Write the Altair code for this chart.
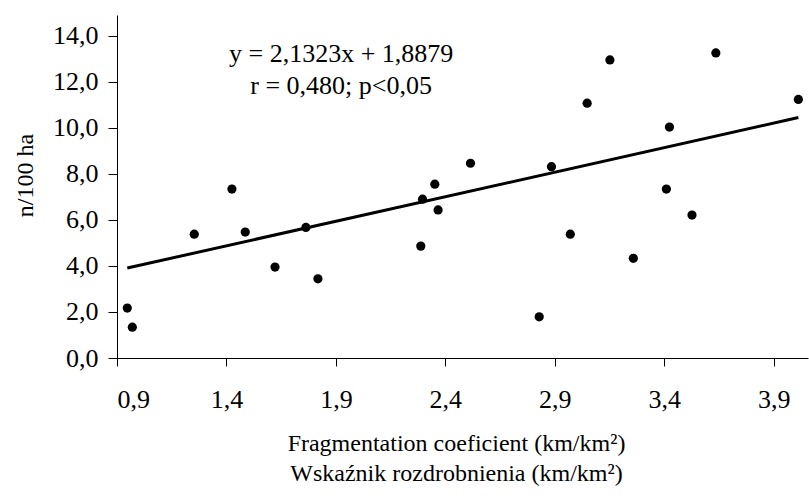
import altair as alt
import pandas as pd

# Data
frag = [0.947, 0.970, 1.253, 1.425, 1.486, 1.622, 1.763, 1.818, 2.288, 2.296,
        2.352, 2.367, 2.515, 2.829, 2.885, 2.971, 3.048, 3.152, 3.259, 3.410,
        3.424, 3.527, 3.636, 4.013]
density = [2.17, 1.34, 5.38, 7.34, 5.47, 3.95, 5.67, 3.44, 4.86, 6.90,
           7.55, 6.43, 8.46, 1.79, 8.31, 5.38, 11.07, 12.95, 4.33, 7.34,
           10.03, 6.21, 13.25, 11.23]

slope = 2.1323
intercept = 1.8879
line_x = [0.947, 4.013]

ann_text = ["y = 2,1323x + 1,8879", "r = 0,480; p<0,05"]
ann_x = [1.924, 1.924]
ann_y = [12.87, 11.47]

x_ticks = [0.9, 1.4, 1.9, 2.4, 2.9, 3.4, 3.9]
y_ticks = [0, 2, 4, 6, 8, 10, 12, 14]

pts = pd.DataFrame({"x": frag, "y": density})
ln = pd.DataFrame({"x": line_x, "y": [slope * v + intercept for v in line_x]})
ann = pd.DataFrame({"t": ann_text, "x": ann_x, "y": ann_y})

FONT = "Liberation Serif"
lab = "replace(format(datum.value, '.1f'), '.', ',')"

xs = alt.Scale(domain=[0.9, 4.057], nice=False, zero=False)
ys = alt.Scale(domain=[0, 14.9], nice=False)

xax = alt.Axis(values=x_ticks, labelExpr=lab, grid=False, tickSize=8,
               labelPadding=20, labelFontSize=26, labelFont=FONT,
               title=["Fragmentation coeficient (km/km²)", "Wskaźnik rozdrobnienia (km/km²)"],
               titleFont=FONT, titleFontSize=24, titleFontWeight="normal",
               titleLineHeight=30, titlePadding=19, titleX=339, titleAlign="center",
               domainColor="black", tickColor="black", labelColor="black", titleColor="black")
yax = alt.Axis(values=y_ticks, labelExpr=lab, grid=False, tickSize=9,
               labelPadding=10, labelFontSize=26, labelFont=FONT,
               title="n/100 ha", titleFont=FONT, titleFontSize=24, titleFontWeight="normal",
               titleAngle=270, titleBaseline="middle", titleAlign="center",
               titleX=-92, titleY=160,
               domainColor="black", tickColor="black", labelColor="black", titleColor="black")

points = alt.Chart(pts).mark_circle(size=85, color="black", opacity=1).encode(
    x=alt.X("x:Q", scale=xs, axis=xax),
    y=alt.Y("y:Q", scale=ys, axis=yax),
)
line = alt.Chart(ln).mark_line(color="black", strokeWidth=3).encode(
    x=alt.X("x:Q", scale=xs), y=alt.Y("y:Q", scale=ys)
)
text = alt.Chart(ann).mark_text(font=FONT, fontSize=26, color="black", align="center",
                                baseline="alphabetic").encode(
    x=alt.X("x:Q", scale=xs), y=alt.Y("y:Q", scale=ys), text="t:N"
)

chart = (points + line + text).properties(
    width=691, height=343,
    autosize=alt.AutoSizeParams(type="none"),
    padding={"left": 117, "top": 15, "right": 1, "bottom": 138},
    background="white",
).configure_view(stroke=None)

chart.save("out.html", embed_options={"renderer": "svg", "actions": False})
